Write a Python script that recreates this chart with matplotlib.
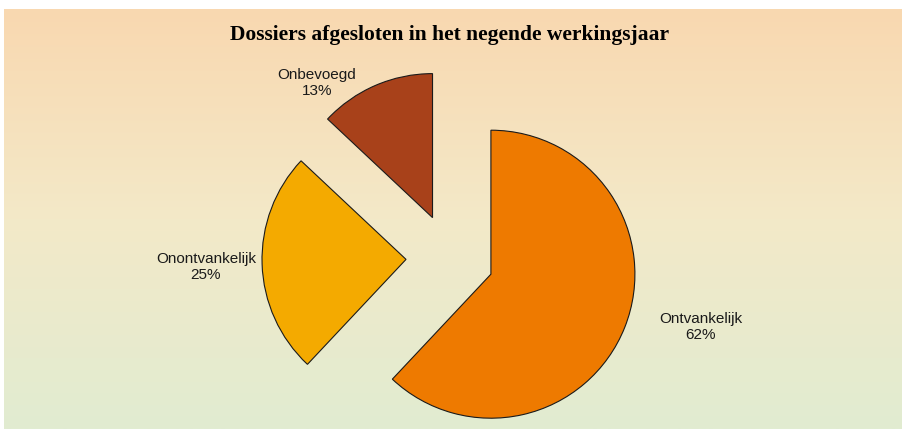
import numpy as np
import matplotlib
matplotlib.use("Agg")
import matplotlib.pyplot as plt
from matplotlib.colors import LinearSegmentedColormap

W, H = 903, 431
categories = ["Ontvankelijk", "Onontvankelijk", "Onbevoegd"]
shares = [62, 25, 13]
colors = ["#EE7A00", "#F4AA00", "#A8411A"]
title = "Dossiers afgesloten in het negende werkingsjaar"

# label anchor positions in pixels (x, y from top)
label_px = [(701, 327), (206, 267), (317, 83)]

fig = plt.figure(figsize=(W / 100, H / 100), dpi=100, facecolor="white")

# gradient backdrop
bg = fig.add_axes([4 / W, 1 / H, 899 / W, 420 / H])
grad = LinearSegmentedColormap.from_list("bg", ["#F9D8B0", "#F3E9C8", "#E1ECD1"])
bg.imshow(np.linspace(0, 1, 256)[:, None], cmap=grad, aspect="auto",
          extent=(0, 1, 0, 1), origin="upper")
bg.set_axis_off()

# pie, 1 data unit = 144 px, centre at (450, 259) px
R, cx, cy = 144.0, 450.0, 259.0
ax = fig.add_axes([0, 0, 1, 1])
ax.patch.set_alpha(0)
ax.pie(shares, colors=colors, startangle=90, counterclock=False,
       explode=[44 / R] * len(shares),
       wedgeprops=dict(edgecolor="#1a1a1a", linewidth=0.8))
ax.set_xlim(-cx / R, (W - cx) / R)
ax.set_ylim((cy - H) / R, cy / R)
ax.set_axis_off()

for name, v, (px, py) in zip(categories, shares, label_px):
    fig.text(px / W, 1 - py / H, f"{name}\n{v}%", ha="center", va="center",
             fontsize=11, family="Liberation Sans", color="#1a1a1a", linespacing=1.2)

fig.text(450 / W, 1 - 35 / H, title, ha="center", va="center",
         fontsize=15.5, fontweight="bold", family="Liberation Serif", color="black")

fig.savefig("out.png", dpi=100, facecolor="white")
